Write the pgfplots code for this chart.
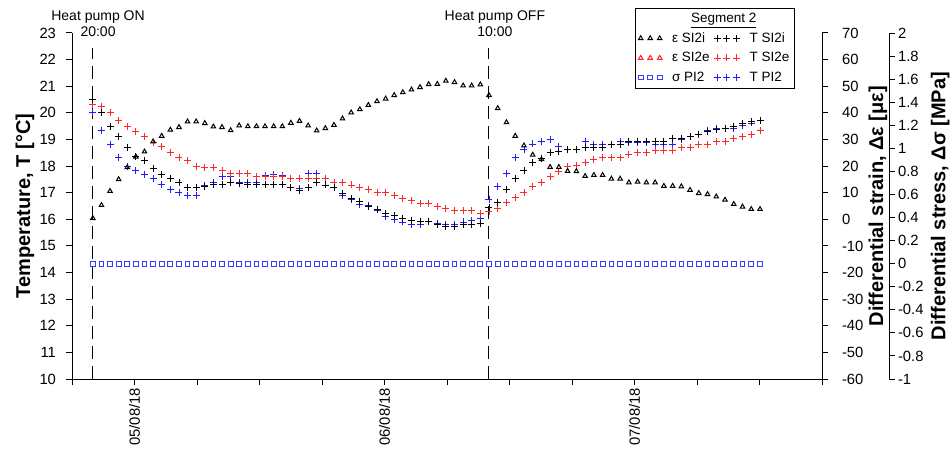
\documentclass[border=0pt]{standalone}
\usepackage{fontspec}
\setmainfont{Liberation Sans}
\usepackage{pgfplots}
\pgfplotsset{compat=1.18}
\usepackage{pgfplotstable}

\definecolor{myred}{RGB}{255,40,40}
\definecolor{myblue}{RGB}{30,30,255}
\definecolor{sqblue}{RGB}{60,60,255}

\pgfplotstableread{
h eps Ti Te Tp sig
20.00 0.4 20.50 20.32 20.00 0
20.83 5.3 20.00 20.23 19.32 0
21.65 10.6 19.50 20.00 18.82 0
22.48 15.0 19.10 19.70 18.33 0
23.31 19.5 18.70 19.50 18.00 0
24.13 23.5 18.36 19.30 17.82 0
24.96 25.4 18.20 19.10 17.70 0
25.79 29.2 17.92 18.90 17.52 0
26.61 31.3 17.70 18.73 17.32 0
27.44 33.6 17.52 18.52 17.12 0
28.27 34.6 17.38 18.33 17.00 0
29.09 36.7 17.20 18.20 16.91 0
29.92 36.7 17.20 18.00 16.91 0
30.75 36.1 17.25 17.94 17.28 0
31.57 34.8 17.31 17.94 17.40 0
32.40 34.6 17.31 17.83 17.60 0
33.23 33.4 17.38 17.72 17.62 0
34.05 35.2 17.33 17.72 17.40 0
34.88 34.9 17.32 17.72 17.40 0
35.71 34.9 17.31 17.60 17.40 0
36.53 34.9 17.31 17.60 17.66 0
37.36 34.9 17.31 17.60 17.68 0
38.19 34.9 17.31 17.60 17.65 0
39.01 36.2 17.19 17.53 17.18 0
39.84 36.9 17.10 17.53 17.15 0
40.67 35.2 17.20 17.53 17.73 0
41.49 33.3 17.39 17.53 17.73 0
42.32 34.2 17.29 17.53 17.53 0
43.15 35.4 17.19 17.40 17.20 0
43.97 37.8 16.98 17.40 16.91 0
44.80 40.1 16.78 17.29 16.73 0
45.63 41.3 16.68 17.20 16.55 0
46.45 42.9 16.47 17.13 16.51 0
47.28 44.3 16.37 17.00 16.35 0
48.11 45.3 16.23 17.00 16.10 0
48.93 46.6 16.16 16.89 16.00 0
49.76 47.7 16.04 16.80 15.90 0
50.59 48.7 15.97 16.70 15.82 0
51.41 49.6 15.91 16.58 15.82 0
52.24 50.7 15.91 16.58 15.91 0
53.07 50.8 15.82 16.47 15.85 0
53.89 52.0 15.72 16.41 15.80 0
54.72 51.5 15.72 16.32 15.80 0
55.55 50.2 15.82 16.32 15.90 0
56.37 50.2 15.82 16.32 15.95 0
57.20 50.6 15.85 16.23 16.04 0
58.03 46.6 16.45 16.29 16.74 0
58.87 41.7 16.62 16.41 17.22 0
59.71 36.4 17.12 16.63 17.72 0
60.55 31.3 17.52 16.83 18.33 0
61.39 27.7 17.82 17.02 18.63 0
62.23 24.2 18.12 17.22 18.83 0
63.07 22.5 18.30 17.40 18.92 0
63.90 19.6 18.52 17.62 19.01 0
64.74 19.6 18.55 17.80 18.74 0
65.58 18.1 18.62 17.98 18.62 0
66.42 18.0 18.62 18.02 18.62 0
67.26 16.2 18.69 18.15 18.94 0
68.10 16.6 18.69 18.24 18.80 0
68.94 16.6 18.69 18.32 18.80 0
69.78 15.2 18.80 18.32 18.80 0
70.62 15.2 18.80 18.32 18.92 0
71.46 13.8 18.92 18.43 18.90 0
72.30 14.1 18.94 18.50 18.90 0
73.14 13.8 18.94 18.50 18.88 0
73.98 13.8 18.94 18.60 18.82 0
74.82 12.5 18.94 18.60 18.82 0
75.66 12.5 19.02 18.60 18.82 0
76.50 12.3 19.02 18.70 19.00 0
77.33 11.0 19.10 18.70 19.10 0
78.17 9.8 19.20 18.82 19.20 0
79.01 9.4 19.29 18.82 19.32 0
79.85 8.5 19.38 18.92 19.40 0
80.69 7.3 19.42 18.92 19.42 0
81.53 5.7 19.48 19.02 19.42 0
82.37 4.7 19.61 19.13 19.52 0
83.21 3.8 19.67 19.20 19.62 0
84.05 3.8 19.70 19.32 19.70 0
}\datatab

\pgfplotsset{
  base/.style={
    scale only axis, width=750pt, height=346pt,
    at={(0,0)}, anchor=south west,
    xmin=18, xmax=90,
    tick align=outside, major tick length=5.5pt,
    /pgf/number format/assume math mode=true,
    tick label style={font=\fontsize{14.8}{17}\selectfont},
    axis line style={line width=1pt},
    every tick/.style={black, line width=1pt},
  },
  mylabel/.style={every axis y label/.style={at={(axis description cs:#1,0.5)},
    anchor=center, rotate=90, font=\fontsize{20}{24}\selectfont\bfseries}},
  triple/.style={legend image code/.code={%
    \draw[##1, only marks] plot coordinates {(0pt,0pt) (9.5pt,0pt) (19pt,0pt)};}},
}

\begin{document}
\begin{tikzpicture}[font=\fontsize{14}{16}\selectfont]
\begin{axis}[base,
  ymin=10, ymax=23, ytick={10,11,...,23},
  axis x line*=bottom, axis y line*=left,
  xtick={18,24,...,90},
  xticklabels={,05/08/18,,,,06/08/18,,,,07/08/18,,,},
  xticklabel style={rotate=90, anchor=east},
  y tick label style={xshift=-7pt},
  mylabel=-0.0627,
  ylabel={Temperature, T [°C]},
  clip mode=individual]
\addplot[forget plot, black, line width=1.3pt, dash pattern=on 13pt off 7pt] coordinates {(20,10) (20,22.45)};
\addplot[forget plot, black, line width=1.3pt, dash pattern=on 13pt off 7pt] coordinates {(58,10) (58,22.45)};
\addplot[only marks, mark=+, mark size=3.5pt, myblue, line width=0.9pt] table[x=h, y=Tp] {\datatab};
\addplot[only marks, mark=+, mark size=3.5pt, myred, line width=0.9pt] table[x=h, y=Te] {\datatab};
\addplot[only marks, mark=+, mark size=3.5pt, black, line width=0.9pt] table[x=h, y=Ti] {\datatab};
\node[anchor=base] at ([yshift=-3.8pt]axis cs:20.5,23) {20:00};
\node[anchor=base] at ([yshift=12pt]axis cs:20.5,23) {Heat pump ON};
\node[anchor=base] at ([yshift=-3.8pt]axis cs:58.6,23) {10:00};
\node[anchor=base] at ([yshift=12pt]axis cs:58.6,23) {Heat pump OFF};
\end{axis}

\begin{axis}[base,
  axis x line=none, axis y line*=right,
  ymin=-60, ymax=70, ytick={-60,-50,...,70},
  y tick label style={xshift=11pt},
  mylabel=1.0747,
  ylabel={Differential strain, Δε [με]}]
\addplot[only marks, mark=triangle, mark size=2.6pt, black, line width=1pt] table[x=h, y=eps] {\datatab};
\end{axis}

\begin{axis}[base,
  axis x line=none, axis y line*=right,
  axis y line shift=67pt,
  ymin=-1, ymax=2,
  ytick={-1,-0.8,-0.6,-0.4,-0.2,0,0.2,0.4,0.6,0.8,1,1.2,1.4,1.6,1.8,2},
  y tick label style={/pgf/number format/fixed, /pgf/number format/precision=1},
  mylabel=1.1575,
  ylabel={Differential stress, Δσ [MPa]},
  legend columns=2,
  legend cell align=left,
  legend style={at={(0.7507,1.0723)}, anchor=north west, draw=black, line width=0.6pt,
    fill=white, font=\fontsize{13.5}{16}\selectfont, inner xsep=3pt, inner ysep=3pt,
    row sep=4.5pt,
    /tikz/every odd column/.append style={column sep=8pt},
    /tikz/every even column/.append style={column sep=2pt}},
  ]
\addplot[forget plot, only marks, mark=square, mark size=2.4pt, sqblue, line width=0.9pt] table[x=h, y=sig] {\datatab};
\addlegendimage{empty legend}
\addlegendentry{\makebox[0pt][l]{\hspace{19pt}\underline{Segment 2}}}
\addlegendimage{empty legend}
\addlegendentry{}
\addlegendimage{triple, mark=triangle, mark size=2.6pt, black, line width=1pt}
\addlegendentry{ε SI2i}
\addlegendimage{triple, mark=+, mark size=3.5pt, black, line width=0.9pt}
\addlegendentry{T SI2i}
\addlegendimage{triple, mark=triangle, mark size=2.6pt, myred, line width=1pt}
\addlegendentry{ε SI2e}
\addlegendimage{triple, mark=+, mark size=3.5pt, myred, line width=0.9pt}
\addlegendentry{T SI2e}
\addlegendimage{triple, mark=square, mark size=2.4pt, sqblue, line width=0.9pt}
\addlegendentry{σ PI2}
\addlegendimage{triple, mark=+, mark size=3.5pt, myblue, line width=0.9pt}
\addlegendentry{T PI2}
\end{axis}
\pgfresetboundingbox
\path[use as bounding box] (-72pt,-79pt) rectangle (880pt,379pt);
\end{tikzpicture}
\end{document}
